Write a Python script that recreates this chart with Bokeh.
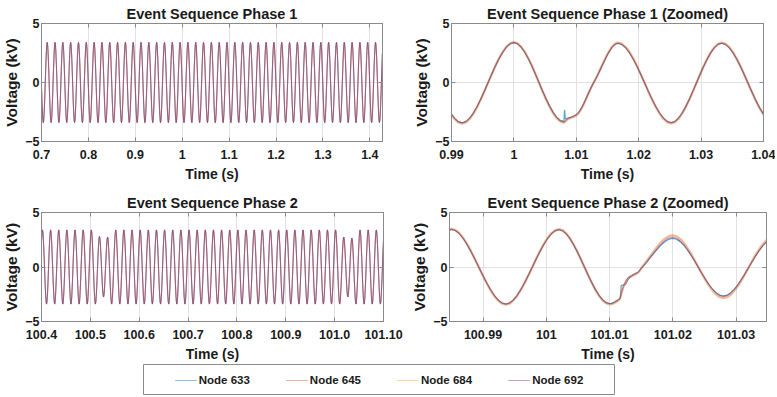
import numpy as np
from bokeh.plotting import figure
from bokeh.layouts import column, row, Spacer
from bokeh.models import FixedTicker, Range1d, Legend, LegendItem, LinearAxis, CustomLabelingPolicy
from bokeh.embed import file_html
from bokeh.resources import INLINE

FONT = "Liberation Sans"
SERIES = ["Node 633", "Node 645", "Node 684", "Node 692"]
COLORS = ["#0072BD", "#D95319", "#EDB120", "#7E2F8E"]

# ---------------- data ----------------
F_HZ = 60.0  # grid frequency: extrema every half period

# Phase 1, full view: first extremum (a peak) time and alternating extrema (kV)
P1_T0 = 0.6955
P1_PEAKS = [3.40, 3.40, 3.40, 3.40, 3.40, 3.40, 3.40, 3.40, 3.40, 3.40, 3.40, 3.40, 3.40, 3.40, 3.40,
            3.40, 3.40, 3.40, 3.40, 3.40, 3.40, 3.40, 3.40, 3.40, 3.40, 3.40, 3.40, 3.40, 3.40, 3.40,
            3.40, 3.40, 3.40, 3.40, 3.40, 3.40, 3.40, 3.40, 3.40, 3.40, 3.40, 3.40, 3.40, 3.40, 3.40]
P1_TROUGHS = [-3.40, -3.40, -3.40, -3.40, -3.40, -3.40, -3.40, -3.40, -3.40, -3.40, -3.40, -3.40, -3.40, -3.40, -3.40,
              -3.40, -3.40, -3.40, -3.40, -3.40, -3.40, -3.40, -3.40, -3.40, -3.40, -3.40, -3.40, -3.40, -3.40, -3.40,
              -3.40, -3.40, -3.40, -3.40, -3.40, -3.40, -3.40, -3.40, -3.40, -3.40, -3.40, -3.40, -3.40, -3.40, -3.40]

# Phase 2, full view
P2_T0 = 100.3853
P2_PEAKS = [3.40, 3.40, 3.40, 3.40, 3.40, 3.40, 3.40, 3.40, 2.80, 2.75, 3.40, 3.40, 3.40, 3.40, 3.40,
            3.40, 3.40, 3.40, 3.40, 3.40, 3.40, 3.40, 3.40, 3.40, 3.40, 3.40, 3.40, 3.40, 3.40, 3.40,
            3.40, 3.40, 3.40, 3.40, 3.40, 3.40, 3.40, 3.40, 2.75, 2.65, 3.40, 3.40, 3.40, 3.40]
P2_TROUGHS = [-3.40, -3.40, -3.40, -3.40, -3.40, -3.40, -3.40, -3.40, -2.75, -3.40, -3.40, -3.40, -3.40, -3.40, -3.40,
              -3.40, -3.40, -3.40, -3.40, -3.40, -3.40, -3.40, -3.40, -3.40, -3.40, -3.40, -3.40, -3.40, -3.40, -3.40,
              -3.40, -3.40, -3.40, -3.40, -3.40, -3.40, -3.40, -3.40, -2.75, -3.40, -3.40, -3.40, -3.40]

# Phase 1, zoomed: key points (s, kV) per node
Z1_T = [0.9833, 0.9917, 1.0000, 1.0080, 1.00812, 1.00825, 1.0086, 1.0092, 1.0100, 1.0128, 1.0167, 1.0252, 1.0333, 1.0417]
Z1_633 = [3.40, -3.42, 3.38, -3.30, -2.35, -3.10, -3.02, -2.92, -2.72, 0.00, 3.32, -3.40, 3.33, -3.40]
Z1_645 = [3.45, -3.48, 3.42, -3.40, -3.36, -3.30, -3.12, -2.98, -2.78, 0.00, 3.38, -3.47, 3.38, -3.45]
Z1_684 = [3.42, -3.45, 3.40, -3.38, -3.34, -3.28, -3.10, -2.96, -2.76, 0.00, 3.35, -3.44, 3.35, -3.42]
Z1_692 = [3.40, -3.42, 3.38, -3.36, -3.32, -3.26, -3.08, -2.94, -2.74, 0.00, 3.32, -3.41, 3.33, -3.40]

# Phase 2, zoomed
Z2_T = [100.9757, 100.9850, 100.9936, 101.0020, 101.0100, 101.0112, 101.01170, 101.01185, 101.0124,
        101.0130, 101.0137, 101.0145, 101.0152, 101.0200, 101.0280, 101.0360]
Z2_633 = [-3.40, 3.45, -3.40, 3.42, -3.35, -3.05, -2.85, -1.70, -1.62, -1.10, -0.72, -0.45, 0.00, 2.62, -2.65, 2.60]
Z2_645 = [-3.45, 3.50, -3.45, 3.47, -3.42, -3.15, -2.80, -2.45, -1.55, -1.00, -0.78, -0.52, 0.05, 2.90, -2.85, 2.80]
Z2_684 = [-3.42, 3.47, -3.42, 3.44, -3.40, -3.12, -2.78, -2.42, -1.52, -0.98, -0.76, -0.50, 0.03, 2.80, -2.75, 2.72]
Z2_692 = [-3.40, 3.45, -3.40, 3.42, -3.38, -3.10, -2.75, -2.40, -1.50, -0.95, -0.74, -0.48, 0.02, 2.70, -2.70, 2.65]

# Axes
Y_TICKS = [-5, 0, 5]
P1_XTICKS = [0.7, 0.8, 0.9, 1.0, 1.1, 1.2, 1.3, 1.4]
P1_XLABELS = ["0.7", "0.8", "0.9", "1", "1.1", "1.2", "1.3", "1.4"]
Z1_XTICKS = [0.99, 1.0, 1.01, 1.02, 1.03, 1.04]
Z1_XLABELS = ["0.99", "1", "1.01", "1.02", "1.03", "1.04"]
P2_XTICKS = [100.4, 100.5, 100.6, 100.7, 100.8, 100.9, 101.0, 101.1]
P2_XLABELS = ["100.4", "100.5", "100.6", "100.7", "100.8", "100.9", "101.0", "101.10"]
Z2_XTICKS = [100.99, 101.0, 101.01, 101.02, 101.03]
Z2_XLABELS = ["100.99", "101", "101.01", "101.02", "101.03"]

P1_XR = (0.7, 1.427)
Z1_XR = (0.99, 1.04)
P2_XR = (100.4, 101.1)
Z2_XR = (100.9847, 101.0348)

# ---------------- helpers ----------------
def pchip(xk, yk, n=14):
    xk = np.asarray(xk, float)
    yk = np.asarray(yk, float)
    h = np.diff(xk)
    d = np.diff(yk) / h
    m = np.zeros_like(yk)
    for i in range(1, len(yk) - 1):
        if d[i - 1] * d[i] > 0:
            w1 = 2 * h[i] + h[i - 1]
            w2 = h[i] + 2 * h[i - 1]
            m[i] = (w1 + w2) / (w1 / d[i - 1] + w2 / d[i])
    xs, ys = [], []
    s = np.linspace(0, 1, n, endpoint=False)
    h00 = 2 * s**3 - 3 * s**2 + 1
    h10 = s**3 - 2 * s**2 + s
    h01 = -2 * s**3 + 3 * s**2
    h11 = s**3 - s**2
    for i in range(len(h)):
        xs.append(xk[i] + s * h[i])
        ys.append(h00 * yk[i] + h10 * h[i] * m[i] + h01 * yk[i + 1] + h11 * h[i] * m[i + 1])
    xs.append([xk[-1]])
    ys.append([yk[-1]])
    return np.concatenate(xs), np.concatenate(ys)


def extrema(t0, peaks, troughs):
    vals = []
    for i, pk in enumerate(peaks):
        vals.append(pk)
        if i < len(troughs):
            vals.append(troughs[i])
    ts = t0 + np.arange(len(vals)) / (2 * F_HZ)
    return ts, vals


FULL_W = [1.0, 1.2, 1.0, 0.9]
FULL_A = [0.4, 0.4, 0.2, 0.65]
ZOOM_W = [1.2, 2.4, 1.4, 0.8]
ZOOM_A = [0.65, 0.4, 0.3, 0.7]
TXT = "#1a1a1a"
FRAME = "#8a8a8a"


def box_axis(ticks):
    # tick marks only (MATLAB box style), no labels drawn
    return LinearAxis(ticker=FixedTicker(ticks=ticks),
                      major_label_policy=CustomLabelingPolicy(code="for (const i of indices) { if (false) yield i }"),
                      major_label_text_font_size="0px",
                      major_label_standoff=0, major_tick_in=4, major_tick_out=0,
                      minor_tick_line_color=None, axis_line_color=FRAME,
                      major_tick_line_color=FRAME)


def make_fig(title, xr, xticks, xlabels, w, h, bl, br, bt, bb):
    p = figure(width=w, height=h, x_range=Range1d(*xr), y_range=Range1d(-5, 5),
               output_backend="svg", toolbar_location=None,
               min_border_left=bl, min_border_right=br, min_border_top=bt, min_border_bottom=bb)
    p.title.text = title
    p.title.align = "center"
    p.title.text_font = FONT
    p.title.text_font_style = "bold"
    p.title.text_font_size = "14.5px"
    p.title.text_color = TXT
    p.title.standoff = 3
    p.outline_line_color = FRAME
    p.outline_line_width = 1
    p.xaxis.ticker = FixedTicker(ticks=xticks)
    p.xaxis.major_label_overrides = dict(zip(xticks, xlabels))
    p.yaxis.ticker = FixedTicker(ticks=Y_TICKS)
    p.xaxis.axis_label = "Time (s)"
    p.yaxis.axis_label = "Voltage (kV)"
    for ax in (p.xaxis[0], p.yaxis[0]):
        ax.axis_label_text_font = FONT
        ax.axis_label_text_font_style = "bold"
        ax.axis_label_text_color = TXT
        ax.major_label_text_font = FONT
        ax.major_label_text_font_style = "bold"
        ax.major_label_text_font_size = "12.5px"
        ax.major_label_text_color = TXT
        ax.major_tick_in = 4
        ax.major_tick_out = 0
        ax.minor_tick_line_color = None
        ax.axis_line_color = FRAME
        ax.major_tick_line_color = FRAME
    p.xaxis.axis_label_text_font_size = "14px"
    p.yaxis.axis_label_text_font_size = "15.5px"
    p.xaxis.major_label_standoff = 8
    p.xaxis.axis_label_standoff = 4
    p.yaxis.major_label_standoff = 2
    p.yaxis.axis_label_standoff = 2
    p.add_layout(box_axis(xticks), "above")
    p.add_layout(box_axis(Y_TICKS), "right")
    p.xgrid.ticker = FixedTicker(ticks=xticks)
    p.ygrid.ticker = FixedTicker(ticks=Y_TICKS)
    p.xgrid.grid_line_color = "#e2e2e2"
    p.ygrid.grid_line_color = "#e2e2e2"
    return p


def draw(p, curves, widths, alphas):
    for (x, y), col, lw, la in zip(curves, COLORS, widths, alphas):
        p.line(x, y, line_color=col, line_width=lw, line_alpha=la)


# ---------------- figures ----------------
p1 = make_fig("Event Sequence Phase 1", P1_XR, P1_XTICKS, P1_XLABELS, 408, 186, 38, 26, 23, 45)
t1, v1 = extrema(P1_T0, P1_PEAKS, P1_TROUGHS)
c1 = pchip(t1, v1, 10)
draw(p1, [c1] * 4, FULL_W, FULL_A)

p2 = make_fig("Event Sequence Phase 1 (Zoomed)", Z1_XR, Z1_XTICKS, Z1_XLABELS, 367, 186, 43, 12, 23, 45)
draw(p2, [pchip(Z1_T, v) for v in (Z1_633, Z1_645, Z1_684, Z1_692)], ZOOM_W, ZOOM_A)

p3 = make_fig("Event Sequence Phase 2", P2_XR, P2_XTICKS, P2_XLABELS, 408, 178, 39, 25, 26, 36)
t2, v2 = extrema(P2_T0, P2_PEAKS, P2_TROUGHS)
c2 = pchip(t2, v2, 10)
draw(p3, [c2] * 4, FULL_W, FULL_A)

p4 = make_fig("Event Sequence Phase 2 (Zoomed)", Z2_XR, Z2_XTICKS, Z2_XLABELS, 367, 178, 38, 9, 26, 36)
draw(p4, [pchip(Z2_T, v) for v in (Z2_633, Z2_645, Z2_684, Z2_692)], ZOOM_W, ZOOM_A)

# legend strip
lf = figure(width=472, height=31, x_axis_type=None, y_axis_type=None,
            output_backend="svg", toolbar_location=None, min_border=0,
            outline_line_color=FRAME)
items = []
for name, col in zip(SERIES, COLORS):
    r = lf.line(x=[float("nan")], y=[float("nan")], line_color=col, line_width=1.2, line_alpha=0.45)
    items.append(LegendItem(label=name, renderers=[r]))
leg = Legend(items=items, orientation="horizontal", location="center",
             border_line_color=None, background_fill_alpha=0,
             label_text_font=FONT, label_text_font_style="bold", label_text_font_size="11.5px",
             label_text_color=TXT, glyph_width=22, label_standoff=2,
             spacing=36, padding=0, margin=0)
lf.add_layout(leg, "center")

layout = column(row(p1, p2), row(p3, p4), row(Spacer(width=143, height=31), lf))

open("out.html", "w").write(file_html(layout, INLINE))
